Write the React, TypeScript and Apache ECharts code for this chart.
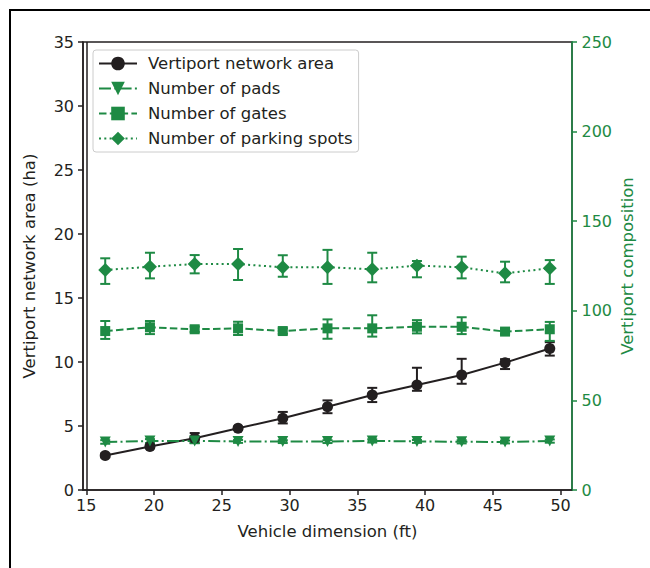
import React, { useEffect, useRef } from "react";
import * as echarts from "echarts";

const dims = [16.4, 19.7, 23.0, 26.2, 29.5, 32.8, 36.1, 39.4, 42.7, 45.9, 49.2];
const xTicks = [15, 20, 25, 30, 35, 40, 45, 50];

const area = [2.7, 3.4, 4.05, 4.83, 5.6, 6.5, 7.42, 8.2, 8.98, 9.95, 11.05];
const areaLow = [2.55, 3.27, 3.67, 4.72, 5.2, 6.0, 6.87, 7.75, 8.3, 9.45, 10.5];
const areaHigh = [2.85, 3.53, 4.45, 4.95, 6.1, 7.0, 7.98, 9.55, 10.25, 10.22, 11.55];

const pads = [26.8, 27.3, 27.4, 27.1, 27.0, 27.0, 27.4, 27.1, 26.9, 26.8, 27.3];
const padsLow = [25.8, 26.2, 26.1, 26.3, 26.2, 26.2, 26.5, 26.3, 26.0, 26.0, 26.4];
const padsHigh = [27.8, 28.4, 28.7, 27.9, 27.8, 27.8, 28.3, 27.9, 27.8, 27.6, 28.2];

const gates = [88.7, 90.8, 89.7, 90.2, 88.7, 90.2, 90.2, 91.1, 91.1, 88.4, 89.7];
const gatesLow = [84.3, 87.0, 88.2, 86.5, 87.2, 84.4, 85.6, 87.4, 87.0, 87.0, 83.2];
const gatesHigh = [94.3, 94.3, 91.2, 93.9, 90.2, 95.2, 97.5, 94.8, 96.4, 89.9, 93.8];

const parking = [122.8, 124.6, 126.1, 126.1, 124.3, 124.3, 123.2, 125.2, 124.3, 120.9, 123.7];
const parkingLow = [115.0, 118.1, 120.9, 117.2, 119.0, 115.0, 115.9, 118.7, 118.1, 115.9, 115.0];
const parkingHigh = [129.3, 132.4, 131.1, 134.5, 131.0, 134.0, 132.4, 127.8, 130.2, 127.4, 128.3];

const BLACK = "#231f20";
const GREEN = "#1e8a44";
const FONT = "DejaVu Sans";
const FS = 16.5;
const TFS = 16;

function pts(vals: number[]) {
  return dims.map((d, i) => [d, vals[i]]);
}

function errData(low: number[], high: number[]) {
  return dims.map((d, i) => [d, low[i], high[i]]);
}

function errSeries(name: string, low: number[], high: number[], color: string, yAxisIndex: number) {
  return {
    type: "custom",
    name: name + " err",
    yAxisIndex,
    z: 1,
    encode: { x: 0, y: [1, 2] },
    data: errData(low, high),
    renderItem: (params: any, api: any) => {
      const x = api.value(0);
      const lo = api.coord([x, api.value(1)]);
      const hi = api.coord([x, api.value(2)]);
      const cw = 5;
      const style = { stroke: color, lineWidth: 2 };
      return {
        type: "group",
        children: [
          { type: "line", shape: { x1: lo[0], y1: lo[1], x2: hi[0], y2: hi[1] }, style },
          { type: "line", shape: { x1: lo[0] - cw, y1: lo[1], x2: lo[0] + cw, y2: lo[1] }, style },
          { type: "line", shape: { x1: hi[0] - cw, y1: hi[1], x2: hi[0] + cw, y2: hi[1] }, style },
        ],
      };
    },
  };
}

export default function App() {
  const ref = useRef<HTMLDivElement>(null);
  useEffect(() => {
    if (!ref.current) return;
    const chart = echarts.init(ref.current, null, { renderer: "svg" });
    const axisLabelBase = { fontFamily: FONT, fontSize: TFS };
    chart.setOption({
      animation: false,
      backgroundColor: "#fff",
      textStyle: { fontFamily: FONT },
      grid: {
        left: 83,
        right: 78,
        top: 42,
        bottom: 78,
        show: true,
        borderColor: BLACK,
        borderWidth: 1.5,
        backgroundColor: "transparent",
      },
      legend: {
        left: 93,
        top: 50,
        orient: "vertical",
        itemWidth: 38,
        itemHeight: 17,
        itemGap: 8,
        padding: [5, 6, 5, 5],
        borderColor: "#cccccc",
        borderWidth: 1,
        borderRadius: 3,
        backgroundColor: "rgba(255,255,255,0.8)",
        textStyle: { fontFamily: FONT, fontSize: FS, color: BLACK, padding: [0, 0, 0, 6] },
        data: [
          "Vertiport network area",
          "Number of pads",
          "Number of gates",
          "Number of parking spots",
        ],
      },
      xAxis: {
        type: "value",
        min: 14.76,
        max: 50.84,
        name: "Vehicle dimension (ft)",
        nameLocation: "middle",
        nameGap: 33,
        nameMoveOverlap: false,
        nameTextStyle: { fontFamily: FONT, fontSize: FS, color: BLACK },
        axisLine: { show: true, onZero: false, lineStyle: { color: BLACK, width: 1.5 } },
        axisTick: { show: true, length: 5, customValues: xTicks, lineStyle: { color: BLACK, width: 1.5 } },
        axisLabel: { ...axisLabelBase, color: BLACK, margin: 7, customValues: xTicks },
        splitLine: { show: false },
      },
      yAxis: [
        {
          type: "value",
          min: 0,
          max: 35,
          interval: 5,
          position: "left",
          name: "Vertiport network area (ha)",
          nameLocation: "middle",
          nameGap: 45,
          nameMoveOverlap: false,
          nameRotate: 90,
          nameTextStyle: { fontFamily: FONT, fontSize: FS, color: BLACK },
          axisLine: { show: true, lineStyle: { color: BLACK, width: 1.5 } },
          axisTick: { show: true, length: 5, lineStyle: { color: BLACK, width: 1.5 } },
          axisLabel: { ...axisLabelBase, color: BLACK, margin: 9 },
          splitLine: { show: false },
        },
        {
          type: "value",
          min: 0,
          max: 250,
          interval: 50,
          position: "right",
          name: "Vertiport composition",
          nameLocation: "middle",
          nameGap: 47,
          nameMoveOverlap: false,
          nameRotate: 90,
          nameTextStyle: { fontFamily: FONT, fontSize: FS, color: GREEN },
          axisLine: { show: true, lineStyle: { color: GREEN, width: 1.5 } },
          axisTick: { show: true, length: 5, lineStyle: { color: GREEN, width: 1.5 } },
          axisLabel: { ...axisLabelBase, color: GREEN, margin: 9.5 },
          splitLine: { show: false },
        },
      ],
      graphic: [
        {
          type: "line",
          shape: { x1: 87, y1: 42, x2: 87, y2: 490 },
          style: { stroke: BLACK, lineWidth: 1.5 },
          z: 10,
        },
        {
          type: "rect",
          shape: { x: 10, y: 10, width: 800, height: 800 },
          style: { fill: "none", stroke: "#000", lineWidth: 2 },
          z: 10,
        },
      ],
      series: [
        errSeries("Vertiport network area", areaLow, areaHigh, BLACK, 0),
        errSeries("Number of pads", padsLow, padsHigh, GREEN, 1),
        errSeries("Number of gates", gatesLow, gatesHigh, GREEN, 1),
        errSeries("Number of parking spots", parkingLow, parkingHigh, GREEN, 1),
        {
          type: "line",
          name: "Vertiport network area",
          yAxisIndex: 0,
          data: pts(area),
          symbol: "circle",
          symbolSize: 11,
          z: 3,
          itemStyle: { color: BLACK },
          lineStyle: { color: BLACK, width: 2 },
        },
        {
          type: "line",
          name: "Number of pads",
          yAxisIndex: 1,
          data: pts(pads),
          symbol: "triangle",
          symbolRotate: 180,
          symbolSize: 11,
          z: 3,
          itemStyle: { color: GREEN },
          lineStyle: { color: GREEN, width: 2, type: [12, 3.3, 2, 3.3] },
        },
        {
          type: "line",
          name: "Number of gates",
          yAxisIndex: 1,
          data: pts(gates),
          symbol: "rect",
          symbolSize: 10,
          z: 3,
          itemStyle: { color: GREEN },
          lineStyle: { color: GREEN, width: 2, type: [7.5, 3.3] },
        },
        {
          type: "line",
          name: "Number of parking spots",
          yAxisIndex: 1,
          data: pts(parking),
          symbol: "diamond",
          symbolSize: [14, 14],
          z: 3,
          itemStyle: { color: GREEN },
          lineStyle: { color: GREEN, width: 2, type: [2, 3.3] },
        },
      ],
    });
    return () => chart.dispose();
  }, []);
  return (
    <div
      ref={ref}
      style={{ position: "fixed", left: 0, top: 0, width: 650, height: 568, background: "#fff" }}
    />
  );
}
